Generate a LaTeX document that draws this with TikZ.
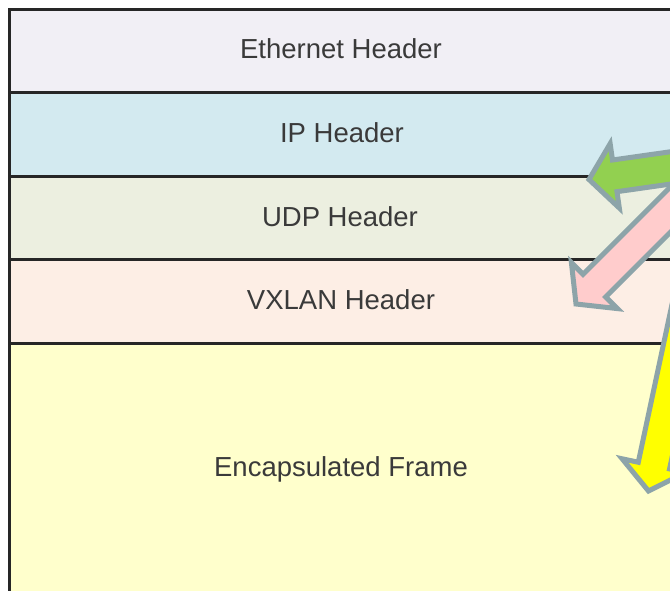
\documentclass[tikz,border=0pt]{standalone}
\usepackage{fontspec}
\setmainfont{Liberation Sans}
\usetikzlibrary{calc}

\definecolor{ethfill}{HTML}{F1EFF5}
\definecolor{ipfill}{HTML}{D3EAF0}
\definecolor{udpfill}{HTML}{ECEFE0}
\definecolor{vxlanfill}{HTML}{FDEEE5}
\definecolor{framefill}{HTML}{FFFFCC}
\definecolor{rowline}{HTML}{262626}
\definecolor{textgray}{HTML}{3A3A3A}
\definecolor{arrowedge}{HTML}{8DA4A9}
\definecolor{greenarrow}{HTML}{92D050}
\definecolor{pinkarrow}{HTML}{FFCCCC}
\definecolor{yellowarrow}{HTML}{FFFF00}

\tikzset{
  row/.style={draw=rowline, line width=3pt, minimum width=664pt,
    inner sep=0pt, outer sep=0pt},
  lbl/.style={anchor=base, font=\fontsize{27.5}{32}\selectfont,
    text=textgray, inner sep=0pt},
  blockarrow/.style={draw=arrowedge, line width=5pt, line join=miter},
}

% block arrow from a source coordinate #1 to a tip coordinate #2, filled with #3
\newcommand\drawblockarrow[3]{%
  \coordinate (#2-base) at ($(#2)!26pt!(#1)$);
  \draw[blockarrow, fill=#3] (#2)
    -- ($(#2-base)!32.5pt!-90:(#1)$)
    -- ($(#2-base)!16pt!-90:(#1)$)
    -- ($(#1)!16pt!90:(#2)$)
    -- ($(#1)!16pt!-90:(#2)$)
    -- ($(#2-base)!16pt!90:(#1)$)
    -- ($(#2-base)!32.5pt!90:(#1)$)
    -- cycle;
}

\begin{document}
\begin{tikzpicture}[x=1pt,y=-1pt]
\useasboundingbox (0,0) rectangle (670,590);
\clip (0,0) rectangle (670,590);

% packet layers
\node[row, fill=ethfill,   minimum height=83.5pt] (eth)   at (341,50.75)  {};
\node[row, fill=ipfill,    minimum height=83.5pt] (ip)    at (341,134.25) {};
\node[row, fill=udpfill,   minimum height=83.5pt] (udp)   at (341,217.75) {};
\node[row, fill=vxlanfill, minimum height=83.5pt] (vxlan) at (341,301.25) {};
\node[row, fill=framefill, minimum height=277pt]  (frame) at (341,481.5)  {};

% layer names
\node[lbl] (ethlbl)   at (341,58)  {Ethernet Header};
\node[lbl] (iplbl)    at (342,142) {IP Header};
\node[lbl] (udplbl)   at (340,226) {UDP Header};
\node[lbl] (vxlanlbl) at (341,309) {VXLAN Header};
\node[lbl] (framelbl) at (341,476) {Encapsulated Frame};

% arrows fanning out from a common point to the right
\coordinate (hub) at (719,161);
\coordinate (ytip) at (648.5,491);
\coordinate (ptip) at (576,304);
\coordinate (gtip) at (589,179.5);
\drawblockarrow{hub}{ytip}{yellowarrow}
\drawblockarrow{hub}{ptip}{pinkarrow}
\drawblockarrow{hub}{gtip}{greenarrow}
\end{tikzpicture}
\end{document}
